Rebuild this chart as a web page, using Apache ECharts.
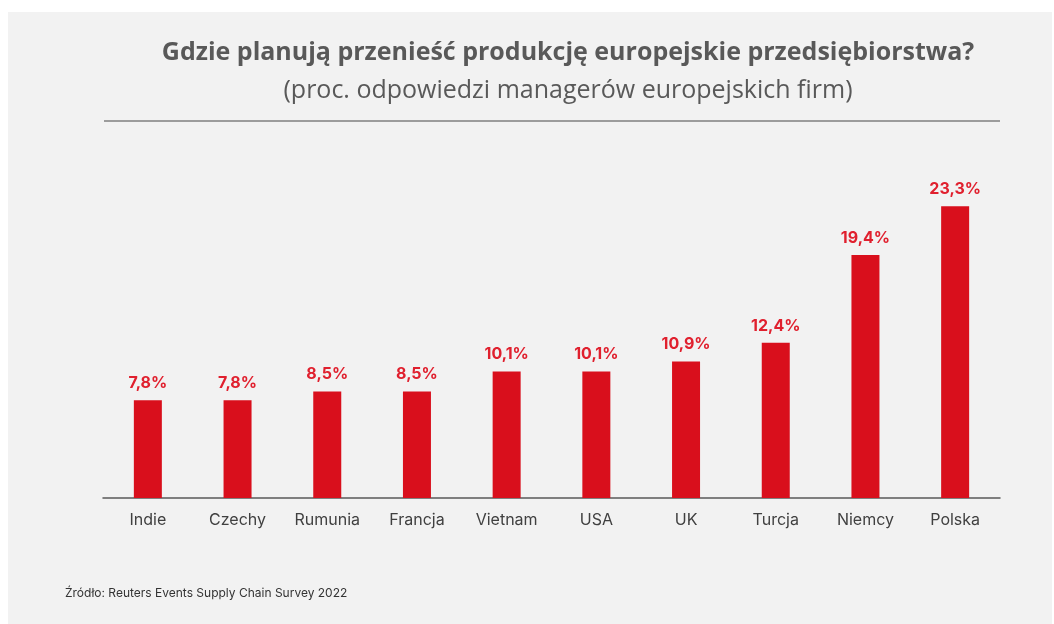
<!DOCTYPE html>
<html>
<head>
<meta charset="utf-8">
<script src="https://cdn.jsdelivr.net/npm/echarts@6/dist/echarts.min.js"></script>
<style>
html,body{margin:0;padding:0;background:#ffffff;}
#chart{width:1054px;height:624px;}
</style>
</head>
<body>
<div id="chart"></div>
<script>
const categories = ['Indie','Czechy','Rumunia','Francja','Vietnam','USA','UK','Turcja','Niemcy','Polska'];
const values = [7.8, 7.8, 8.5, 8.5, 10.1, 10.1, 10.9, 12.4, 19.4, 23.3];
const titleText = 'Gdzie planują przenieść produkcję europejskie przedsiębiorstwa?';
const subtitleText = '(proc. odpowiedzi managerów europejskich firm)';
const sourceText = 'Źródło: Reuters Events Supply Chain Survey 2022';

const chart = echarts.init(document.getElementById('chart'));
chart.setOption({
  backgroundColor: '#ffffff',
  animation: false,
  title: {
    text: titleText,
    subtext: subtitleText,
    left: 563,
    textAlign: 'center',
    top: 33,
    itemGap: 8,
    textStyle: {fontFamily: 'Open Sans', fontWeight: 'bold', fontSize: 25, color: '#595959', lineHeight: 30},
    subtextStyle: {fontFamily: 'Open Sans', fontSize: 25, color: '#595959', lineHeight: 30}
  },
  graphic: [
    {type: 'rect', z: -10, shape: {x: 8, y: 12, width: 1044, height: 612}, style: {fill: '#f2f2f2'}},
    {type: 'line', shape: {x1: 104, y1: 121, x2: 1000, y2: 121}, style: {stroke: '#7f7f7f', lineWidth: 1.5}},
    {type: 'text', left: 65, top: 587, style: {text: sourceText, fontFamily: 'Inter', fontSize: 12, fill: '#333333'}}
  ],
  grid: {left: 103, right: 54, top: 185, bottom: 126, containLabel: false},
  xAxis: {
    type: 'category',
    data: categories,
    axisLine: {lineStyle: {color: '#595959', width: 1.5}},
    axisTick: {show: false},
    axisLabel: {fontFamily: 'Inter', fontSize: 16, color: '#404040', margin: 14}
  },
  yAxis: {type: 'value', min: 0, max: 25, show: false, splitLine: {show: false}},
  series: [{
    type: 'bar',
    data: values,
    barWidth: 28,
    itemStyle: {color: '#d90f1c'},
    label: {
      show: true,
      position: 'top',
      distance: 9,
      fontFamily: 'Inter',
      fontWeight: 'bold',
      fontSize: 16,
      color: '#e0202e',
      formatter: p => String(p.value.toFixed(1)).replace('.', ',') + '%'
    }
  }]
});
</script>
</body>
</html>
